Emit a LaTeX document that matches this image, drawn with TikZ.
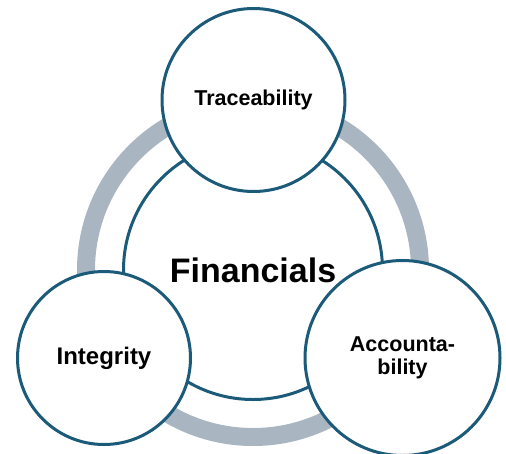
\documentclass[tikz,border=0pt]{standalone}
\usepackage{fontspec}
\setmainfont{Liberation Sans}
\definecolor{ringgray}{HTML}{A9B5C1}
\definecolor{rimblue}{HTML}{1B5A78}
\tikzset{
  bubble/.style={circle, draw=rimblue, line width=3pt, fill=white, inner sep=0pt,
    align=center, font=\bfseries\fontsize{21.5}{23}\selectfont},
}

\begin{document}
\begin{tikzpicture}[x=1pt, y=-1pt]
  \useasboundingbox (0,0) rectangle (506,453);
  \coordinate (hub) at (253,270);
  \draw[ringgray, line width=18pt] (hub) circle (167pt);
  \node[bubble, minimum size=259pt, font=\bfseries\fontsize{34}{40}\selectfont] (fin) at (hub) {Financials};
  \node[bubble, minimum size=183pt] (trace) at (253.5,100) {Traceability};
  \node[bubble, minimum size=173pt, font=\bfseries\fontsize{24}{26}\selectfont] (integ) at (104,358) {Integrity};
  \node[bubble, minimum size=195pt] (account) at (402.5,358) {Accounta-\\bility};
\end{tikzpicture}
\end{document}
